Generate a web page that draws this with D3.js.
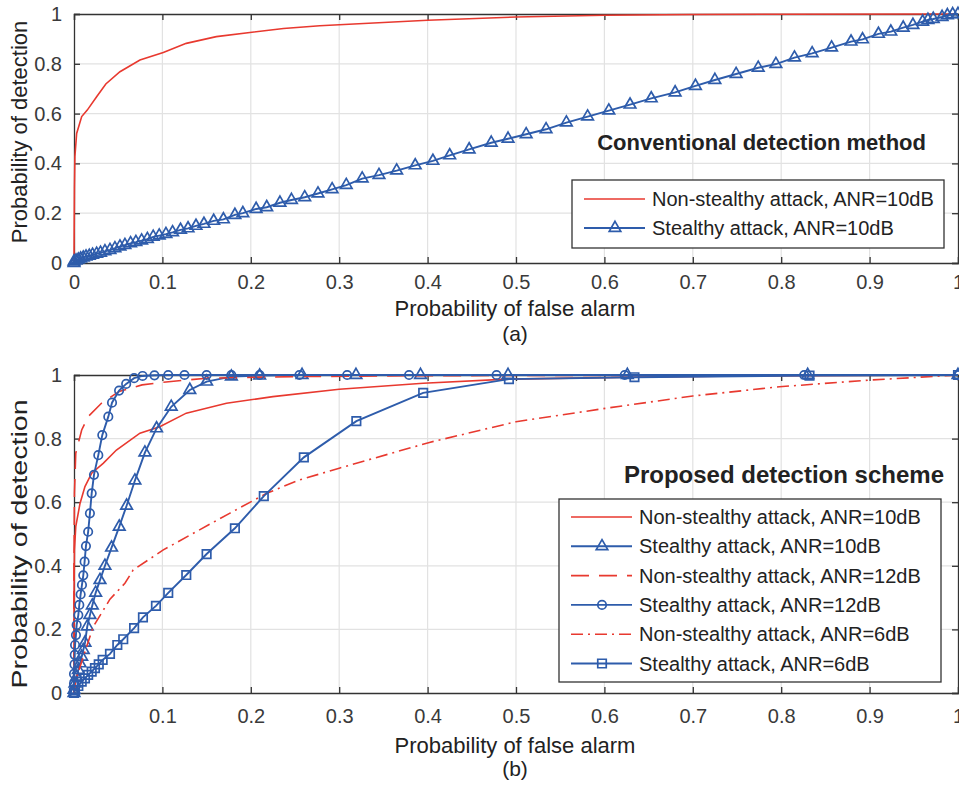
<!DOCTYPE html>
<html>
<head>
<meta charset="utf-8">
<script src="https://cdn.jsdelivr.net/npm/d3@7"></script>
<style>
  body { margin: 0; background: #fff; }
  text { font-family: "Liberation Sans", Arial, Helvetica, sans-serif; }
</style>
</head>
<body>
<svg id="chart" width="959" height="785"></svg>
<script>
// ---- data: [false alarm prob, detection prob] ----
var xTicks = [0, 0.1, 0.2, 0.3, 0.4, 0.5, 0.6, 0.7, 0.8, 0.9, 1];
var yTicks = [0, 0.2, 0.4, 0.6, 0.8, 1];

// (a) conventional detection
var convNonStealthy10 = [[0,0],[0.0005,0.3],[0.001,0.427],[0.003,0.52],[0.0087,0.588],[0.015,0.614],[0.0256,0.668],
  [0.036,0.719],[0.052,0.768],[0.0746,0.815],[0.101,0.845],[0.127,0.882],[0.161,0.909],[0.199,0.926],[0.237,0.942],
  [0.278,0.953],[0.3,0.957],[0.4,0.975],[0.5,0.988],[0.6,0.995],[0.7,0.998],[0.8,0.999],[1,1]];
var convStealthy10 = [[0,0],[0,0.006],[0.0023,0.01],[0.0049,0.014],[0.0075,0.018],[0.0105,0.022],[0.0136,0.026],
  [0.0173,0.029],[0.021,0.033],[0.0256,0.037],[0.030,0.041],[0.035,0.047],[0.0407,0.052],[0.0463,0.059],[0.052,0.066],
  [0.0576,0.072],[0.064,0.079],[0.070,0.084],[0.0765,0.09],[0.083,0.096],[0.0896,0.105],[0.0964,0.11],[0.104,0.116],
  [0.1115,0.123],[0.1205,0.133],[0.129,0.139],[0.138,0.149],[0.147,0.157],[0.158,0.169],[0.169,0.175],[0.182,0.193],
  [0.191,0.2],[0.206,0.217],[0.218,0.224],[0.233,0.242],[0.246,0.253],[0.261,0.264],[0.276,0.279],[0.292,0.296],
  [0.308,0.313],[0.326,0.339],[0.345,0.353],[0.365,0.371],[0.386,0.392],[0.406,0.41],[0.425,0.432],[0.447,0.456],
  [0.472,0.483],[0.491,0.499],[0.5115,0.517],[0.534,0.537],[0.557,0.564],[0.581,0.588],[0.605,0.612],[0.629,0.636],
  [0.653,0.661],[0.680,0.685],[0.703,0.711],[0.725,0.735],[0.749,0.759],[0.774,0.784],[0.794,0.799],[0.815,0.825],
  [0.835,0.842],[0.857,0.865],[0.879,0.889],[0.892,0.898],[0.91,0.92],[0.924,0.929],[0.938,0.945],[0.949,0.956],
  [0.96,0.969],[0.966,0.976],[0.972,0.98],[0.982,0.988],[0.988,0.995],[0.994,0.999],[1,1]];

// (b) proposed scheme
var propNonStealthy10 = [[0,0],[0,0.3],[0.0005,0.45],[0.002,0.523],[0.0068,0.596],[0.0124,0.649],[0.02,0.691],
  [0.033,0.722],[0.048,0.764],[0.0746,0.817],[0.097,0.837],[0.127,0.88],[0.1725,0.911],[0.225,0.932],[0.3,0.955],
  [0.395,0.974],[0.49,0.987],[0.63,0.993],[0.8,0.998],[1,1]];
var propStealthy10 = [[0,0],[0,0.01],[0.0011,0.03],[0.003,0.051],[0.0049,0.072],[0.0068,0.093],[0.0087,0.114],
  [0.0105,0.135],[0.0124,0.158],[0.015,0.209],[0.018,0.245],[0.0207,0.275],[0.0245,0.315],[0.0294,0.355],[0.035,0.40],
  [0.0425,0.457],[0.0512,0.523],[0.0595,0.589],[0.0689,0.668],[0.0802,0.756],[0.0934,0.832],[0.110,0.90],
  [0.131,0.953],[0.15,0.979],[0.178,0.995],[0.21,0.998],[0.258,1],[0.319,1],[0.392,1],[0.491,1],[0.626,1],[0.83,1],[1,1]];
var propNonStealthy12 = [[0,0],[0,0.4],[0.0005,0.628],[0.002,0.754],[0.0087,0.827],[0.016,0.869],[0.031,0.911],
  [0.051,0.948],[0.077,0.969],[0.107,0.979],[0.15,0.99],[0.25,0.995],[0.4,0.998],[1,1]];
var propStealthy12 = [[0,0],[0,0.03],[0,0.06],[0.0005,0.09],[0.0008,0.12],[0.0012,0.151],[0.0022,0.182],[0.003,0.214],
  [0.0049,0.245],[0.006,0.277],[0.0075,0.31],[0.009,0.34],[0.0105,0.37],[0.012,0.413],[0.0135,0.462],[0.016,0.507],
  [0.018,0.565],[0.02,0.628],[0.0226,0.686],[0.0275,0.748],[0.032,0.811],[0.0388,0.869],[0.043,0.913],[0.051,0.951],
  [0.059,0.972],[0.068,0.99],[0.0776,0.997],[0.091,0.999],[0.1066,1],[0.125,1],[0.15,1],[0.178,1],[0.21,1],
  [0.255,1],[0.309,1],[0.379,1],[0.478,1],[0.623,1],[0.826,1],[1,1]];
var propNonStealthy6 = [[0,0],[0.002,0.041],[0.0105,0.114],[0.0218,0.209],[0.0407,0.295],[0.0576,0.345],[0.067,0.387],
  [0.101,0.45],[0.142,0.513],[0.176,0.565],[0.218,0.628],[0.255,0.67],[0.3,0.707],[0.402,0.788],[0.5,0.853],
  [0.6056,0.897],[0.70,0.934],[0.798,0.963],[0.9,0.984],[1,1]];
var propStealthy6 = [[0,0],[0.0011,0.009],[0.0049,0.022],[0.0087,0.036],[0.0124,0.046],[0.016,0.057],[0.02,0.067],
  [0.0237,0.078],[0.028,0.09],[0.0324,0.104],[0.0407,0.123],[0.049,0.151],[0.0557,0.169],[0.068,0.204],[0.078,0.238],
  [0.0927,0.274],[0.1066,0.315],[0.127,0.371],[0.15,0.437],[0.182,0.518],[0.2147,0.619],[0.26,0.741],[0.3194,0.855],
  [0.395,0.944],[0.492,0.987],[0.634,0.993],[0.832,0.998],[1,1]];

var red = "#e8392f", blue = "#2e5cab";
var svg = d3.select("#chart");

var symbols = {
  triangle: d3.symbol().type(d3.symbolTriangle).size(58),
  circle: d3.symbol().type(d3.symbolCircle).size(56),
  square: d3.symbol().type(d3.symbolSquare).size(72)
};

function drawPanel(p) {
  var x = d3.scaleLinear().domain([0, 1]).range([p.left, p.right]);
  var y = d3.scaleLinear().domain([0, 1]).range([p.bottom, p.top]);
  var g = svg.append("g");

  // grid
  g.append("g").selectAll("line").data(xTicks.slice(1, -1)).enter().append("line")
    .attr("x1", d => x(d)).attr("x2", d => x(d)).attr("y1", p.top).attr("y2", p.bottom)
    .attr("stroke", "#e2e2e2").attr("stroke-width", 1.2);
  g.append("g").selectAll("line").data(yTicks.slice(1, -1)).enter().append("line")
    .attr("y1", d => y(d)).attr("y2", d => y(d)).attr("x1", p.left).attr("x2", p.right)
    .attr("stroke", "#e2e2e2").attr("stroke-width", 1.2);

  // axes (ticks inward on all four sides)
  var fmt = d3.format(".1~f");
  var ax = g.append("g").attr("transform", "translate(0," + p.bottom + ")")
    .call(d3.axisBottom(x).tickValues(xTicks).tickSize(-6).tickPadding(12 + p.dy[0]).tickFormat(fmt));
  if (p.hideZeroX) ax.selectAll(".tick text").filter(d => d === 0).remove();
  g.append("g").attr("transform", "translate(0," + p.top + ")")
    .call(d3.axisTop(x).tickValues(xTicks).tickSize(-6).tickFormat(""));
  g.append("g").attr("transform", "translate(" + p.left + ",0)")
    .call(d3.axisLeft(y).tickValues(yTicks).tickSize(-6).tickPadding(12).tickFormat(fmt));
  g.append("g").attr("transform", "translate(" + p.right + ",0)")
    .call(d3.axisRight(y).tickValues(yTicks).tickSize(-6).tickFormat(""));
  g.selectAll(".domain").attr("stroke", "#333").attr("stroke-width", 1.3);
  g.selectAll(".tick line").attr("stroke", "#333").attr("stroke-width", 1.3);
  g.selectAll(".tick text").attr("font-size", 20).attr("fill", "#3a3a3a")
    .style("font-family", "'Liberation Sans', Arial, sans-serif");

  // labels
  g.append("text").attr("x", (p.left + p.right) / 2 - 1).attr("y", p.bottom + 53 + p.dy[1])
    .attr("text-anchor", "middle").attr("font-size", 22).attr("fill", "#222")
    .text("Probability of false alarm");
  g.append("text").attr("x", (p.left + p.right) / 2 - 1).attr("y", p.bottom + 78 + p.dy[2])
    .attr("text-anchor", "middle").attr("font-size", 21).attr("fill", "#222")
    .text(p.caption);
  g.append("text")
    .attr("transform", "translate(27," + p.yLabelMid + ") rotate(-90) scale(" + p.yLabelStretch + ",1)")
    .attr("text-anchor", "middle").attr("font-size", 22).attr("fill", "#222")
    .text("Probability of detection");

  // curves
  var line = d3.line().x(d => x(d[0])).y(d => y(d[1]));
  p.series.forEach(function (s) {
    g.append("path").datum(s.data).attr("d", line)
      .attr("fill", "none").attr("stroke", s.color).attr("stroke-width", s.marker ? 1.9 : 1.6)
      .attr("stroke-dasharray", s.dash || null);
    if (s.marker) {
      g.append("g").selectAll("path").data(s.data).enter().append("path")
        .attr("transform", d => "translate(" + x(d[0]) + "," + y(d[1]) + ")")
        .attr("d", symbols[s.marker])
        .attr("fill", "none").attr("stroke", s.color).attr("stroke-width", 1.7);
    }
  });

  // title inside the axes
  g.append("text").attr("x", p.titleX).attr("y", p.titleY).attr("text-anchor", "end")
    .attr("font-size", p.titleSize).attr("font-weight", "bold").attr("fill", "#222").text(p.title);

  // legend
  var L = p.legend;
  g.append("rect").attr("x", L.x).attr("y", L.y).attr("width", L.w).attr("height", L.h)
    .attr("fill", "#fff").attr("stroke", "#333").attr("stroke-width", 1.3);
  p.series.forEach(function (s, i) {
    var cy = L.y + L.first + i * L.step;
    g.append("line").attr("x1", L.x + 12).attr("x2", L.x + 73).attr("y1", cy).attr("y2", cy)
      .attr("stroke", s.color).attr("stroke-width", s.marker ? 1.9 : 1.6)
      .attr("stroke-dasharray", s.dash || null);
    if (s.marker) {
      g.append("path").attr("transform", "translate(" + (L.x + 43) + "," + cy + ")")
        .attr("d", symbols[s.marker]).attr("fill", "none").attr("stroke", s.color).attr("stroke-width", 1.7);
    }
    g.append("text").attr("x", L.x + 80).attr("y", cy + 7).attr("font-size", 20).attr("fill", "#222")
      .text(s.name);
  });
}

drawPanel({
  left: 74, right: 958, top: 14, bottom: 263, yLabelMid: 132, yLabelStretch: 1, caption: "(a)",
  dy: [0, 0, 0],
  title: "Conventional detection method", titleX: 926, titleY: 150, titleSize: 22,
  legend: { x: 572, y: 180, w: 372, h: 68, first: 19, step: 29 },
  series: [
    { name: "Non-stealthy attack, ANR=10dB", data: convNonStealthy10, color: red },
    { name: "Stealthy attack, ANR=10dB", data: convStealthy10, color: blue, marker: "triangle" }
  ]
});

drawPanel({
  left: 74, right: 958, top: 375, bottom: 693, yLabelMid: 544, yLabelStretch: 1.3, caption: "(b)", hideZeroX: true,
  dy: [4, 7, 5],
  title: "Proposed detection scheme", titleX: 944, titleY: 483, titleSize: 24,
  legend: { x: 559, y: 499, w: 382, h: 183, first: 18, step: 29.3 },
  series: [
    { name: "Non-stealthy attack, ANR=10dB", data: propNonStealthy10, color: red },
    { name: "Stealthy attack, ANR=10dB", data: propStealthy10, color: blue, marker: "triangle" },
    { name: "Non-stealthy attack, ANR=12dB", data: propNonStealthy12, color: red, dash: "18,10" },
    { name: "Stealthy attack, ANR=12dB", data: propStealthy12, color: blue, marker: "circle" },
    { name: "Non-stealthy attack, ANR=6dB", data: propNonStealthy6, color: red, dash: "12,5,2,5" },
    { name: "Stealthy attack, ANR=6dB", data: propStealthy6, color: blue, marker: "square" }
  ]
});
</script>
</body>
</html>
